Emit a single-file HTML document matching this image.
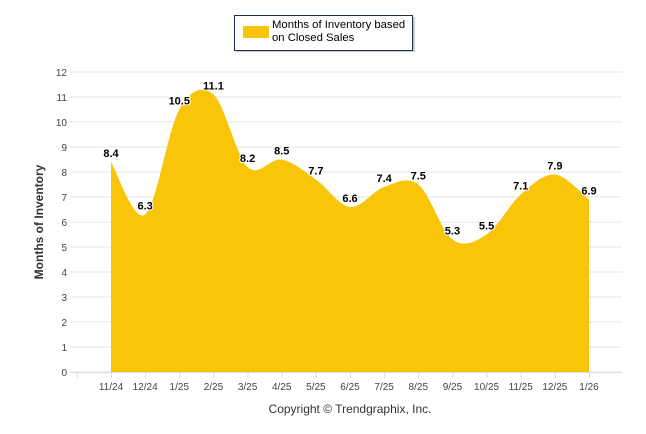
<!DOCTYPE html>
<html><head><meta charset="utf-8"><style>
body{margin:0;background:#fff;font-family:"Liberation Sans",sans-serif}
</style></head><body>
<svg width="646" height="434" style="display:block">
<g id="grid"></g>
<g id="area"></g>
<g id="labels"></g>
<g id="ylab"></g>
<g id="xlab"></g>
<text transform="translate(43,222) rotate(-90)" text-anchor="middle" font-size="12" font-weight="bold" fill="#333">Months of Inventory</text>
<text x="350" y="413" text-anchor="middle" font-size="12" fill="#333">Copyright © Trendgraphix, Inc.</text>
<g>
<rect x="236" y="17" width="179" height="35" fill="#333" opacity="0.25"/>
<rect x="234.5" y="15.5" width="178" height="35" fill="#fff" stroke="#1f2d4d" stroke-width="1"/>
<rect x="243" y="26" width="26" height="12" fill="#f8c508"/>
<text x="272" y="28" font-size="11.3" fill="#000">Months of Inventory based</text>
<text x="272" y="41" font-size="11.3" fill="#000">on Closed Sales</text>
</g>
</svg>
<script>
const categories=["11/24","12/24","1/25","2/25","3/25","4/25","5/25","6/25","7/25","8/25","9/25","10/25","11/25","12/25","1/26"];
const values=[8.4,6.3,10.5,11.1,8.2,8.5,7.7,6.6,7.4,7.5,5.3,5.5,7.1,7.9,6.9];
const yTicks=[0,1,2,3,4,5,6,7,8,9,10,11,12];
const NS="http://www.w3.org/2000/svg";
const x0=111,dx=(589-111)/14,y0=372,yk=25;
const X=i=>x0+i*dx, Y=v=>y0-v*yk;
function mk(t,a,p){const e=document.createElementNS(NS,t);for(const k in a)e.setAttribute(k,a[k]);p.appendChild(e);return e;}
const grid=document.getElementById('grid'),ylab=document.getElementById('ylab'),xlab=document.getElementById('xlab');
yTicks.forEach(v=>{
 const l=mk('line',{x1:70,x2:622,y1:Y(v),y2:Y(v),stroke:'#e6e6e6'},grid);
 
 
 const t=mk('text',{x:67,y:Y(v)+4,'text-anchor':'end','font-size':'10',fill:'#444'},ylab);
 
 
 t.textContent=v;
});
mk('line',{x1:70,x2:622,y1:y0+0.5,y2:y0+0.5,stroke:'#ddd'},grid);
for(let i=-1;i<categories.length;i++){mk('line',{x1:X(i)+0.5,x2:X(i)+0.5,y1:y0,y2:y0+6,stroke:'#ddd'},grid);}
categories.forEach((c,i)=>{
 const t=mk('text',{x:X(i),y:y0+18,'text-anchor':'middle','font-size':'10',fill:'#444'},xlab);
 
 
 t.textContent=c;
});
// Catmull-Rom spline
const pts=values.map((v,i)=>[X(i),Y(v)]);
let d=`M${pts[0][0]},${pts[0][1]}`;
const n=pts.length;
for(let i=0;i<n-1;i++){
 const p0=pts[Math.max(i-1,0)],p1=pts[i],p2=pts[i+1],p3=pts[Math.min(i+2,n-1)];
 const c1=[p1[0]+(p2[0]-p0[0])/6,p1[1]+(p2[1]-p0[1])/6];
 const c2=[p2[0]-(p3[0]-p1[0])/6,p2[1]-(p3[1]-p1[1])/6];
 d+=` C${c1[0]},${c1[1]} ${c2[0]},${c2[1]} ${p2[0]},${p2[1]}`;
}
d+=` L${X(n-1)},${y0} L${X(0)},${y0} Z`;
const area=mk('path',{d:d,fill:'#f8c508'},document.getElementById('area'));


const lab=document.getElementById('labels');
values.forEach((v,i)=>{
 const t=mk('text',{x:X(i),y:Y(v)-5,'text-anchor':'middle','font-size':'11','font-weight':'bold',fill:'#000',stroke:'#fff','stroke-width':'2','paint-order':'stroke'},lab);
 
 
 t.textContent=v.toFixed(1);
});
</script>
</body></html>
